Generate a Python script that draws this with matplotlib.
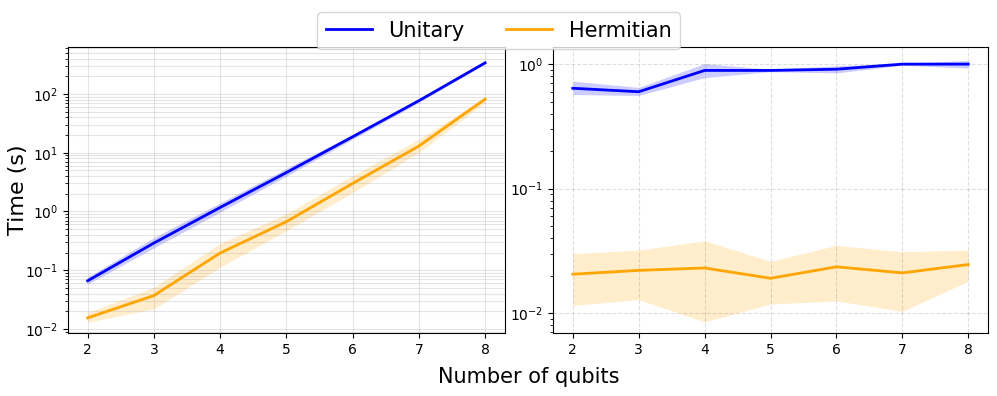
import matplotlib
matplotlib.use("Agg")
import matplotlib.pyplot as plt
import numpy as np

qubits = [2, 3, 4, 5, 6, 7, 8]

# left panel: total time
uni_mean = [0.066, 0.29, 1.17, 4.6, 18.7, 77, 340]
uni_low = [0.058, 0.24, 0.98, 4.0, 17.0, 72, 325]
uni_high = [0.076, 0.36, 1.40, 5.4, 20.5, 83, 355]
her_mean = [0.0154, 0.037, 0.196, 0.67, 3.0, 13.0, 82]
her_low = [0.013, 0.022, 0.112, 0.47, 2.1, 10.1, 72]
her_high = [0.019, 0.051, 0.286, 0.91, 4.07, 17.0, 88]

# right panel
uni_mean_r = [0.64, 0.60, 0.89, 0.89, 0.91, 1.0, 1.0]
uni_low_r = [0.57, 0.56, 0.78, 0.87, 0.85, 0.98, 0.93]
uni_high_r = [0.73, 0.65, 1.01, 0.91, 0.97, 1.02, 1.07]
her_mean_r = [0.0205, 0.022, 0.023, 0.019, 0.0235, 0.021, 0.0245]
her_low_r = [0.0115, 0.0128, 0.0085, 0.0118, 0.0125, 0.0103, 0.018]
her_high_r = [0.030, 0.032, 0.038, 0.026, 0.035, 0.031, 0.032]

fig = plt.figure(figsize=(9.97, 3.96), dpi=100)
ax1 = fig.add_axes([0.068, 0.159, 0.4385, 0.722])
ax2 = fig.add_axes([0.5547, 0.159, 0.4363, 0.722])

# left
ax1.plot(qubits, uni_mean, color='blue', lw=2, label='Unitary')
ax1.fill_between(qubits, uni_low, uni_high, color='blue', alpha=0.2, lw=0)
ax1.plot(qubits, her_mean, color='orange', lw=2, label='Hermitian')
ax1.fill_between(qubits, her_low, her_high, color='orange', alpha=0.2, lw=0)
ax1.set_yscale('log')
ax1.set_ylim(0.0085, 630)
ax1.set_xticks(qubits)
ax1.grid(True, which='both', color='gray', alpha=0.2, lw=0.8)
ax1.set_ylabel('Time (s)', fontsize=16)
ax1.yaxis.set_label_coords(-0.09, 0.5)

# right
ax2.plot(qubits, uni_mean_r, color='blue', lw=2)
ax2.fill_between(qubits, uni_low_r, uni_high_r, color='blue', alpha=0.2, lw=0)
ax2.plot(qubits, her_mean_r, color='orange', lw=2)
ax2.fill_between(qubits, her_low_r, her_high_r, color='orange', alpha=0.2, lw=0)
ax2.set_yscale('log')
ax2.set_ylim(0.0069, 1.37)
ax2.set_xticks(qubits)
ax2.grid(True, which='major', linestyle='--', color='gray', alpha=0.25, lw=0.8)

for ax in (ax1, ax2):
    ax.tick_params(labelsize=10)

fig.text(0.53, 0.048, 'Number of qubits', ha='center', va='center', fontsize=15)
fig.legend(loc='upper center', bbox_to_anchor=(0.5, 0.995), ncol=2, fontsize=15,
           handlelength=2.2, columnspacing=2.0)

fig.savefig('out.png', dpi=100)
